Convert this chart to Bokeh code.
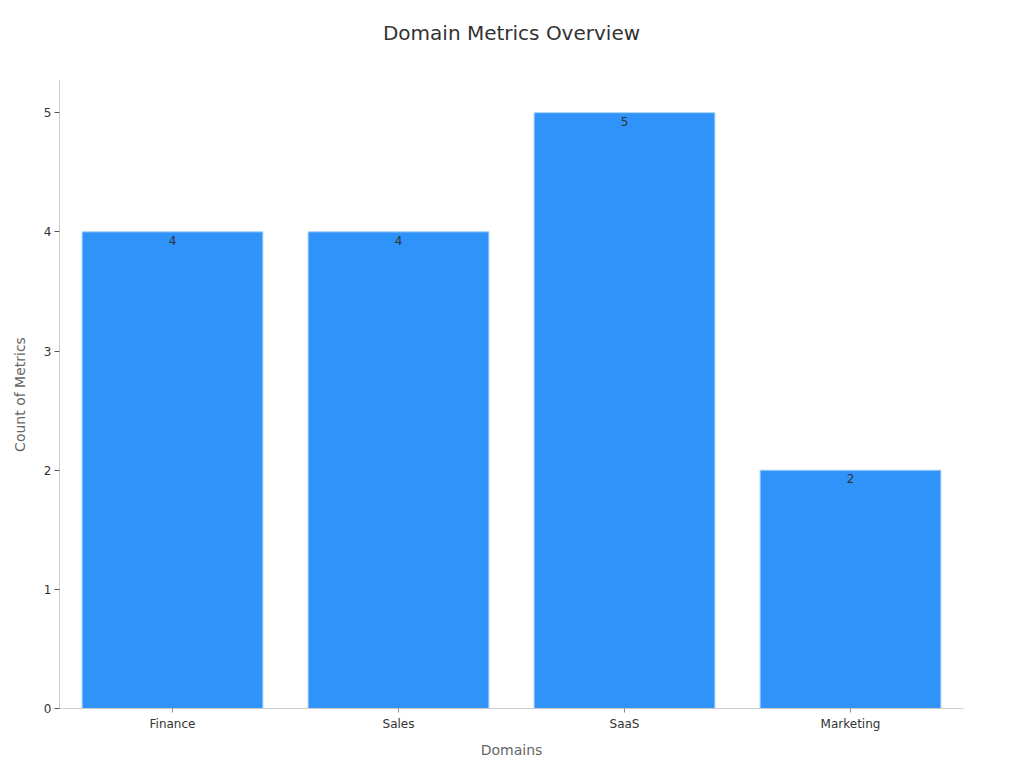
from bokeh.plotting import figure
from bokeh.models import ColumnDataSource, Range1d, FixedTicker, Title
from bokeh.core.properties import value
from bokeh.embed import file_html
from bokeh.resources import INLINE

categories = ["Finance", "Sales", "SaaS", "Marketing"]
counts = [4, 4, 5, 2]
y_ticks = [0, 1, 2, 3, 4, 5]
title_text = "Domain Metrics Overview"

source = ColumnDataSource(data=dict(
    cat=categories,
    val=counts,
    lbl=[str(v) for v in counts],
))

FONT = "DejaVu Sans"

p = figure(
    x_range=categories,
    y_range=Range1d(0, 5.27),
    width=1016, height=765,
    output_backend="svg", toolbar_location=None,
    min_border_left=59, min_border_right=53,
    min_border_top=80, min_border_bottom=57,
)
p.x_range.range_padding = 0

p.title.text = title_text
p.title.align = "center"
p.title.text_font = FONT
p.title.text_font_size = "20px"
p.title.text_font_style = "normal"
p.title.text_color = "#333333"
p.title.standoff = 10

spacer = Title(text=" ", text_font_size="20px", standoff=7)
p.add_layout(spacer, "above")

p.vbar(x="cat", top="val", width=0.8, source=source,
       fill_color="#2f93f9", line_color="#a8d0fb", line_width=1)

p.text(x="cat", y="val", text="lbl", source=source,
       text_align="center", text_baseline="top", y_offset=4,
       text_font=value(FONT), text_font_size="12px", text_color="#333333")

p.xgrid.grid_line_color = None
p.ygrid.grid_line_color = None
p.outline_line_color = None
p.background_fill_color = "white"
p.border_fill_color = "white"

p.yaxis.ticker = FixedTicker(ticks=y_ticks)
p.yaxis.minor_tick_line_color = None
p.yaxis.major_tick_in = 0
p.yaxis.major_tick_out = 5
p.yaxis.major_tick_line_color = "#555555"
p.yaxis.axis_line_color = "#cccccc"
p.yaxis.major_label_text_font = FONT
p.yaxis.major_label_text_font_size = "12px"
p.yaxis.major_label_text_color = "#333333"
p.yaxis.major_label_standoff = 3
p.yaxis.axis_label = "Count of Metrics"
p.yaxis.axis_label_text_font = FONT
p.yaxis.axis_label_text_font_size = "14px"
p.yaxis.axis_label_text_font_style = "normal"
p.yaxis.axis_label_text_color = "#666666"
p.yaxis.axis_label_standoff = 13

p.xaxis.major_tick_in = 0
p.xaxis.major_tick_out = 4
p.xaxis.major_tick_line_color = "#888888"
p.xaxis.axis_line_color = "#cccccc"
p.xaxis.major_label_text_font = FONT
p.xaxis.major_label_text_font_size = "12px"
p.xaxis.major_label_text_color = "#333333"
p.xaxis.major_label_standoff = 4
p.xaxis.axis_label = "Domains"
p.xaxis.axis_label_text_font = FONT
p.xaxis.axis_label_text_font_size = "14px"
p.xaxis.axis_label_text_font_style = "normal"
p.xaxis.axis_label_text_color = "#666666"
p.xaxis.axis_label_standoff = 8

open("out.html", "w").write(file_html(p, INLINE))
